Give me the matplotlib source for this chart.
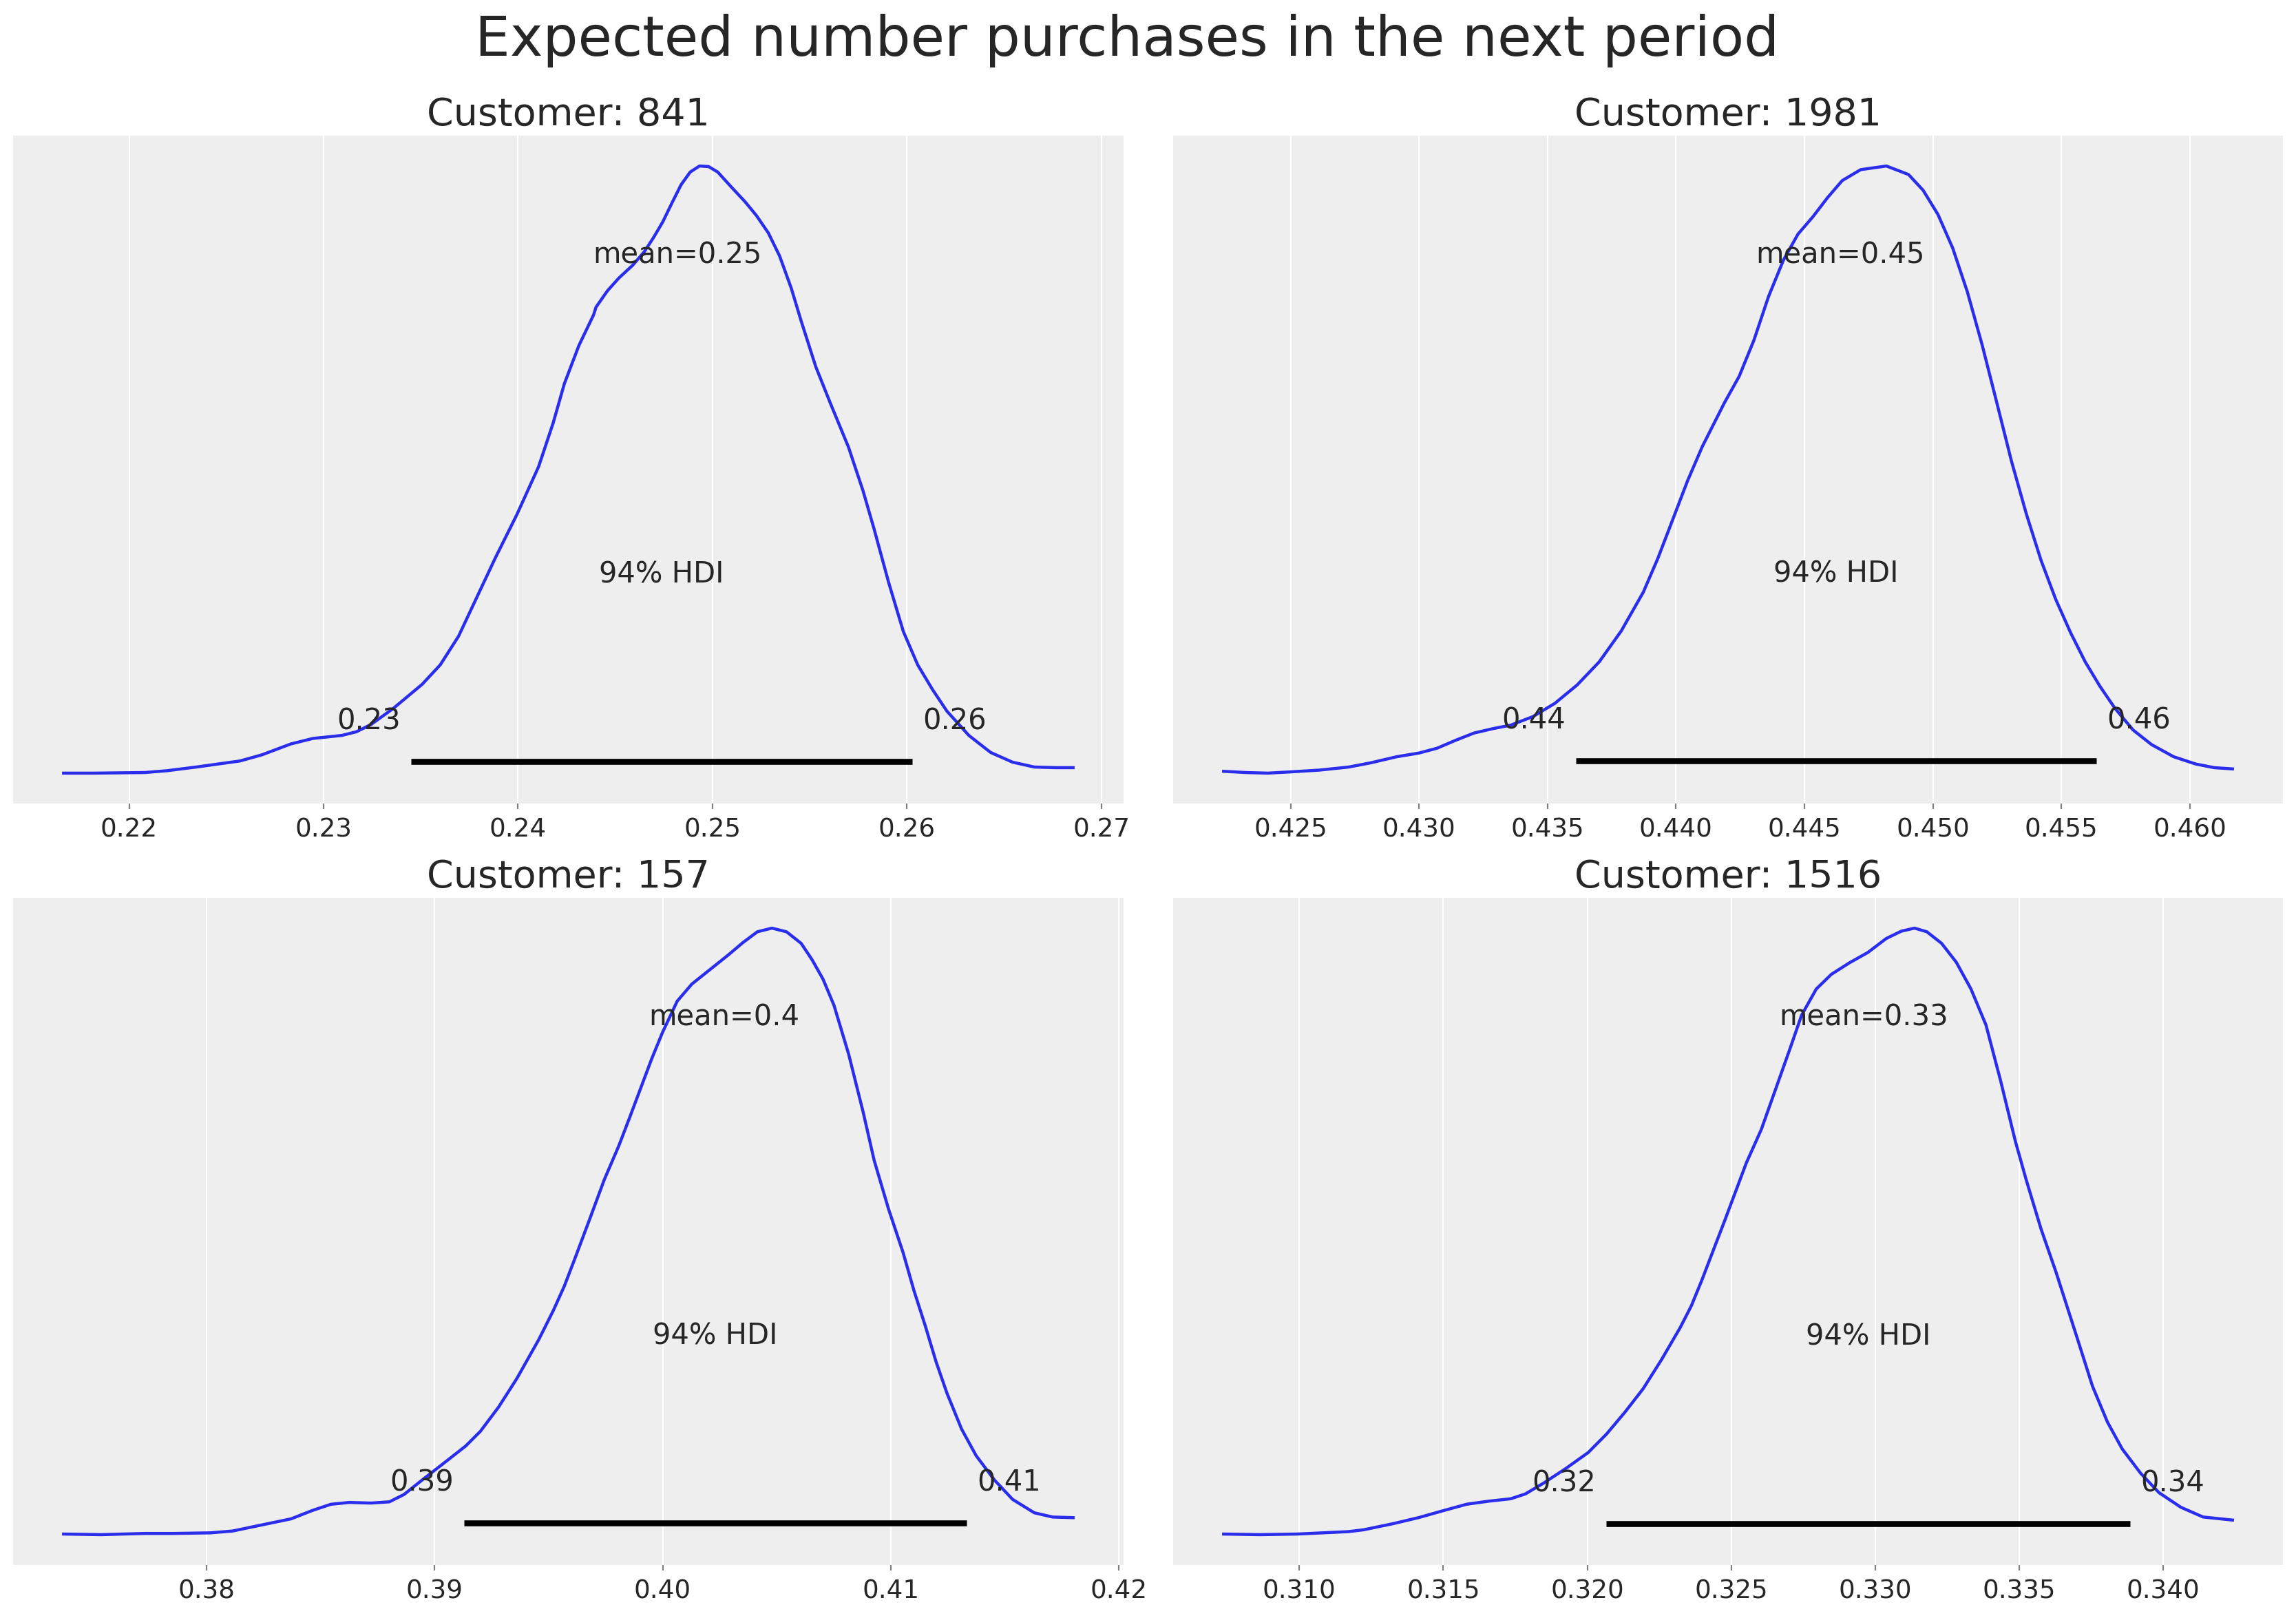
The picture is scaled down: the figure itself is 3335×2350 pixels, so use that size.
import numpy as np
import matplotlib
matplotlib.use("Agg")
import matplotlib.pyplot as plt

# ---------------- data ----------------
customers = ["841", "1981", "157", "1516"]

x_841 = [0.21663, 0.21820, 0.22082, 0.22195, 0.22345, 0.22570, 0.22682, 0.22832, 0.22945, 0.23094,
         0.23169, 0.23244, 0.23357, 0.23507, 0.23600, 0.23694, 0.23788, 0.23882, 0.23994, 0.24106,
         0.24181, 0.24238, 0.24313, 0.24388, 0.24401, 0.24460, 0.24519, 0.24590, 0.24649, 0.24696,
         0.24744, 0.24791, 0.24838, 0.24885, 0.24933, 0.24980, 0.25027, 0.25098, 0.25168, 0.25227,
         0.25287, 0.25345, 0.25405, 0.25456, 0.25531,
         0.25606, 0.25699, 0.25774, 0.25831, 0.25906, 0.25981, 0.26055, 0.26130, 0.26205, 0.26318,
         0.26430, 0.26543, 0.26655, 0.26768, 0.26854]
d_841 = [0.002, 0.002, 0.003, 0.006, 0.012, 0.022, 0.032, 0.050, 0.059, 0.064,
         0.070, 0.082, 0.108, 0.148, 0.180, 0.227, 0.291, 0.355, 0.427, 0.506,
         0.578, 0.642, 0.705, 0.755, 0.768, 0.795, 0.816, 0.837, 0.859, 0.882,
         0.908, 0.939, 0.969, 0.990, 1.000, 0.999, 0.990, 0.965, 0.941, 0.918,
         0.890, 0.852, 0.799, 0.745, 0.670,
         0.610, 0.538, 0.466, 0.403, 0.315, 0.235, 0.180, 0.140, 0.104, 0.064,
         0.036, 0.020, 0.012, 0.011, 0.011]

x_1981 = [0.42239, 0.42325, 0.42411, 0.42497, 0.42612, 0.42726, 0.42812, 0.42913, 0.42999, 0.43070,
          0.43142, 0.43214, 0.43285, 0.43357, 0.43443, 0.43529, 0.43615, 0.43701, 0.43787, 0.43873,
          0.43930, 0.43988, 0.44045, 0.44102, 0.44145, 0.44188, 0.44246, 0.44303, 0.44360, 0.44418,
          0.44475, 0.44532, 0.44590, 0.44647, 0.44719, 0.44819, 0.44905, 0.44962, 0.45020, 0.45077,
          0.45134, 0.45192, 0.45249, 0.45306, 0.45364, 0.45421, 0.45478, 0.45536, 0.45593, 0.45650,
          0.45708, 0.45779, 0.45851, 0.45937, 0.46023, 0.46095, 0.46166]
d_1981 = [0.004, 0.002, 0.001, 0.003, 0.006, 0.011, 0.018, 0.028, 0.034, 0.042,
          0.055, 0.067, 0.074, 0.080, 0.094, 0.116, 0.146, 0.184, 0.235, 0.299,
          0.355, 0.419, 0.482, 0.538, 0.574, 0.610, 0.654, 0.713, 0.785, 0.845,
          0.888, 0.916, 0.948, 0.976, 0.994, 1.000, 0.986, 0.960, 0.920, 0.865,
          0.793, 0.705, 0.610, 0.514, 0.427, 0.351, 0.287, 0.232, 0.184, 0.144,
          0.108, 0.072, 0.048, 0.028, 0.016, 0.010, 0.008]

x_157 = [0.37374, 0.37540, 0.37732, 0.37859, 0.38019, 0.38115, 0.38243, 0.38371, 0.38466, 0.38546,
         0.38626, 0.38722, 0.38802, 0.38866, 0.38946, 0.39042, 0.39137, 0.39201, 0.39281, 0.39361,
         0.39457, 0.39521, 0.39569, 0.39617, 0.39681, 0.39744, 0.39808, 0.39856, 0.39904, 0.39952,
         0.40000, 0.40064, 0.40128, 0.40208, 0.40288, 0.40351, 0.40415, 0.40479, 0.40543, 0.40607,
         0.40655, 0.40703, 0.40751, 0.40815, 0.40879, 0.40927, 0.40990, 0.41054, 0.41102, 0.41150,
         0.41198, 0.41246, 0.41310, 0.41374, 0.41454, 0.41534, 0.41629, 0.41709, 0.41799]
d_157 = [0.003, 0.002, 0.004, 0.004, 0.005, 0.008, 0.018, 0.028, 0.042, 0.052,
         0.055, 0.054, 0.056, 0.068, 0.092, 0.120, 0.148, 0.172, 0.212, 0.259,
         0.323, 0.371, 0.411, 0.458, 0.522, 0.586, 0.642, 0.689, 0.737, 0.785,
         0.829, 0.880, 0.908, 0.932, 0.956, 0.976, 0.994, 1.000, 0.994, 0.975,
         0.948, 0.916, 0.873, 0.793, 0.697, 0.618, 0.538, 0.466, 0.403, 0.347,
         0.287, 0.235, 0.176, 0.132, 0.092, 0.060, 0.038, 0.031, 0.030]

x_1516 = [0.30737, 0.30864, 0.30992, 0.31171, 0.31223, 0.31325, 0.31414, 0.31504, 0.31581, 0.31657,
          0.31734, 0.31785, 0.31849, 0.31926, 0.32003, 0.32066, 0.32130, 0.32194, 0.32258, 0.32322,
          0.32361, 0.32399, 0.32437, 0.32476, 0.32514, 0.32552, 0.32604, 0.32655, 0.32706, 0.32744,
          0.32795, 0.32847, 0.32910, 0.32974, 0.33038, 0.33090, 0.33136, 0.33179, 0.33230, 0.33281,
          0.33332, 0.33384, 0.33435, 0.33486, 0.33524, 0.33575, 0.33627, 0.33665, 0.33703, 0.33754,
          0.33806, 0.33857, 0.33921, 0.33985, 0.34061, 0.34138, 0.34240]
d_1516 = [0.004, 0.003, 0.004, 0.008, 0.011, 0.021, 0.031, 0.043, 0.053, 0.058,
          0.062, 0.070, 0.088, 0.112, 0.138, 0.168, 0.204, 0.243, 0.291, 0.343,
          0.379, 0.423, 0.470, 0.518, 0.566, 0.614, 0.669, 0.737, 0.805, 0.857,
          0.900, 0.924, 0.943, 0.960, 0.983, 0.995, 1.000, 0.994, 0.975, 0.944,
          0.900, 0.841, 0.749, 0.650, 0.586, 0.506, 0.435, 0.379, 0.323, 0.247,
          0.188, 0.144, 0.104, 0.072, 0.048, 0.032, 0.027]

means = [0.2482, 0.4464, 0.4027, 0.3296]
hdi_low = [0.23451, 0.43609, 0.39128, 0.32066]
hdi_high = [0.26026, 0.45636, 0.41332, 0.33885]
hdi_prob_label = "94% HDI"

ticks = [
    [0.22, 0.23, 0.24, 0.25, 0.26, 0.27],
    [0.425, 0.430, 0.435, 0.440, 0.445, 0.450, 0.455, 0.460],
    [0.38, 0.39, 0.40, 0.41, 0.42],
    [0.310, 0.315, 0.320, 0.325, 0.330, 0.335, 0.340],
]
tick_labels = [
    ["0.22", "0.23", "0.24", "0.25", "0.26", "0.27"],
    ["0.425", "0.430", "0.435", "0.440", "0.445", "0.450", "0.455", "0.460"],
    ["0.38", "0.39", "0.40", "0.41", "0.42"],
    ["0.310", "0.315", "0.320", "0.325", "0.330", "0.335", "0.340"],
]

xs = [x_841, x_1981, x_157, x_1516]
ds = [d_841, d_1981, d_157, d_1516]

suptitle = "Expected number purchases in the next period"

# ---------------- style ----------------
TEXT = "#262626"
plt.rcParams["font.family"] = ["DejaVu Sans"]
plt.rcParams["text.color"] = TEXT

W, H = 3335, 2350
DPI = 200
fig = plt.figure(figsize=(W / DPI, H / DPI), dpi=DPI, facecolor="white")

# axes boxes in pixel units (left, top, right, bottom)
boxes = [
    (19, 197, 1632, 1167),
    (1704, 197, 3316, 1167),
    (19, 1304, 1632, 2273),
    (1704, 1304, 3316, 2273),
]

LABEL_FS = 15
for i, (l, t, r, b) in enumerate(boxes):
    ax = fig.add_axes([l / W, 1 - b / H, (r - l) / W, (b - t) / H])
    ax.set_facecolor("#eeeeee")
    for s in ax.spines.values():
        s.set_visible(False)
    ax.set_axisbelow(True)
    ax.grid(True, axis="x", color="white", linewidth=0.8)
    ax.margins(x=0.05, y=0.05)

    ax.plot(xs[i], ds[i], color="#2a2eec", linewidth=1.6,
            solid_joinstyle="round")
    ax.set_yticks([])

    ph = ax.get_ylim()[1]
    lo, hi = hdi_low[i], hdi_high[i]
    ax.plot([lo, hi], [ph * 0.02, ph * 0.02], color="k", linewidth=3.1,
            solid_capstyle="butt")
    ax.annotate(f"{lo:.2g}", xy=(lo, ph * 0.07), xytext=(-5.4, 0),
                textcoords="offset points", ha="right", va="baseline",
                fontsize=LABEL_FS, color=TEXT)
    ax.annotate(f"{hi:.2g}", xy=(hi, ph * 0.07), xytext=(5.4, 0),
                textcoords="offset points", ha="left", va="baseline",
                fontsize=LABEL_FS, color=TEXT)
    ax.text((lo + hi) / 2, ph * 0.3, hdi_prob_label, ha="center",
            fontsize=LABEL_FS, color=TEXT)
    ax.text(means[i], ph * 0.8, f"mean={means[i]:.2g}", ha="center",
            fontsize=LABEL_FS, color=TEXT)

    ax.set_xticks(ticks[i])
    ax.set_xticklabels(tick_labels[i])
    ax.tick_params(axis="x", direction="out", length=3, width=0.8,
                   color="#808080", labelsize=13.4, labelcolor=TEXT, pad=4)
    ax.set_title(f"Customer: {customers[i]}", fontsize=20, pad=5.5, color=TEXT)

fig.text(0.4909, 1 - 81 / H, suptitle, ha="center", va="baseline",
         fontsize=29, color=TEXT)

fig.savefig("out.png", dpi=DPI, facecolor="white")
